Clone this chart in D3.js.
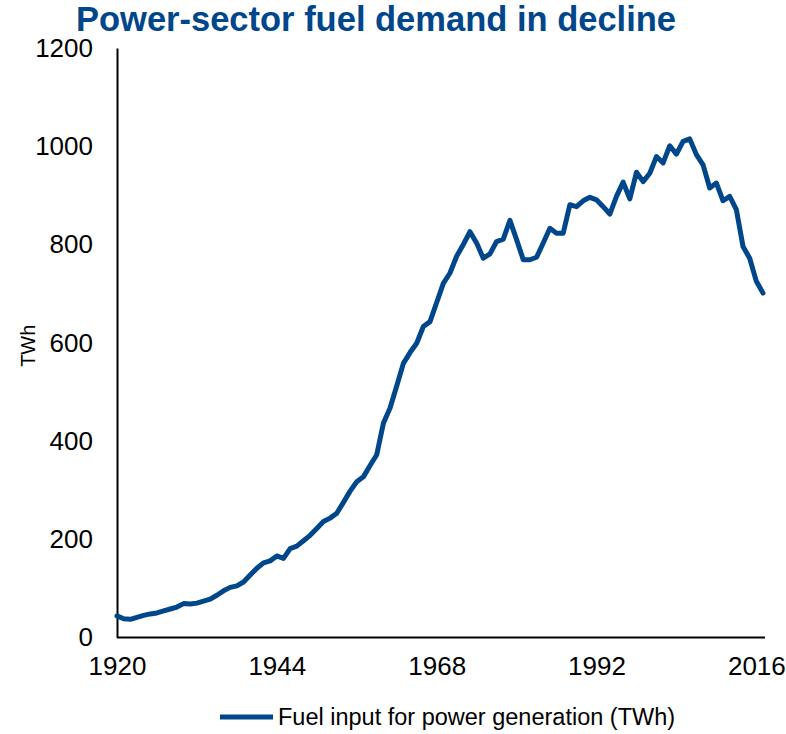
<!DOCTYPE html>
<html>
<head>
<meta charset="utf-8">
<script src="https://cdn.jsdelivr.net/npm/d3@7"></script>
<style>
  html, body { margin: 0; padding: 0; background: #fff; }
  svg { display: block; font-family: "Liberation Sans", Arial, sans-serif; }
</style>
</head>
<body>
<svg id="chart" width="786" height="734"></svg>
<script>
// Fuel input for power generation, TWh, one value per year
const years = d3.range(1920, 2018);
const fuelInput = [
  44, 38, 37, 41, 45, 48, 50, 54, 58, 62,        // 1920-1929
  69, 68, 70, 74, 78, 86, 95, 102, 105, 113,     // 1930-1939
  127, 141, 152, 156, 166, 161, 181, 186, 197, 208, // 1940-1949
  222, 236, 243, 253, 275, 298, 317, 327, 350, 372, // 1950-1959
  436, 467, 512, 558, 580, 599, 633, 643, 682, 721, // 1960-1969
  742, 776, 800, 826, 803, 772, 781, 806, 811, 849, // 1970-1979
  810, 769, 769, 774, 803, 833, 823, 823, 881, 877, // 1980-1989
  889, 896, 891, 877, 862, 898, 927, 893, 947, 928, // 1990-1999
  945, 979, 966, 1001, 984, 1010, 1015, 983, 962, 915, // 2000-2009
  925, 889, 898, 871, 796, 772, 725, 701            // 2010-2017
];
const xTickValues = [1920, 1944, 1968, 1992, 2016];
const yTickValues = [0, 200, 400, 600, 800, 1000, 1200];
const titleText = "Power-sector fuel demand in decline";
const yAxisLabel = "TWh";
const seriesName = "Fuel input for power generation (TWh)";

const blue = "#00468B";
const svg = d3.select("#chart");

const x = d3.scaleLinear().domain([1920, 2017]).range([117, 763]);
const y = d3.scaleLinear().domain([0, 1200]).range([637.5, 48]);

// Title
svg.append("text")
  .attr("x", 376).attr("y", 31)
  .attr("text-anchor", "middle")
  .attr("font-weight", "bold")
  .attr("font-size", 34.5)
  .attr("fill", blue)
  .text(titleText);

// Axes: lines without tick marks
const xAxis = d3.axisBottom(x).tickValues(xTickValues).tickFormat(d3.format("d")).tickSize(0).tickPadding(19);
const yAxis = d3.axisLeft(y).tickValues(yTickValues).tickFormat(d3.format("d")).tickSize(0).tickPadding(24);

const gx = svg.append("g").attr("transform", `translate(0,${y(0)})`).call(xAxis);
const gy = svg.append("g").attr("transform", `translate(${x(1920)},0)`).call(yAxis);

gx.select(".domain").attr("d", `M${x(1920)},0H${x(2017) + 2}`);
[gx, gy].forEach(g => {
  g.select(".domain").attr("stroke", "#000").attr("stroke-width", 2);
  g.selectAll("text").attr("font-size", 26).attr("fill", "#000")
    .attr("font-family", "'Liberation Sans', Arial, sans-serif");
});

// Y axis title
svg.append("text")
  .attr("transform", `translate(35,${(y(0) + y(1200)) / 2 + 3}) rotate(-90)`)
  .attr("text-anchor", "middle")
  .attr("font-size", 20)
  .attr("fill", "#000")
  .text(yAxisLabel);

// Series line
const line = d3.line()
  .x((d, i) => x(years[i]))
  .y(d => y(d));

svg.append("path")
  .datum(fuelInput)
  .attr("fill", "none")
  .attr("stroke", blue)
  .attr("stroke-width", 5)
  .attr("stroke-linejoin", "round")
  .attr("stroke-linecap", "round")
  .attr("d", line);

// Legend
const legend = svg.append("g").attr("transform", "translate(220,717)");
legend.append("line")
  .attr("x1", 0).attr("x2", 53)
  .attr("y1", 0).attr("y2", 0)
  .attr("stroke", blue).attr("stroke-width", 5);
legend.append("text")
  .attr("x", 58).attr("y", 8)
  .attr("font-size", 23.5)
  .attr("fill", "#000")
  .text(seriesName);
</script>
</body>
</html>
